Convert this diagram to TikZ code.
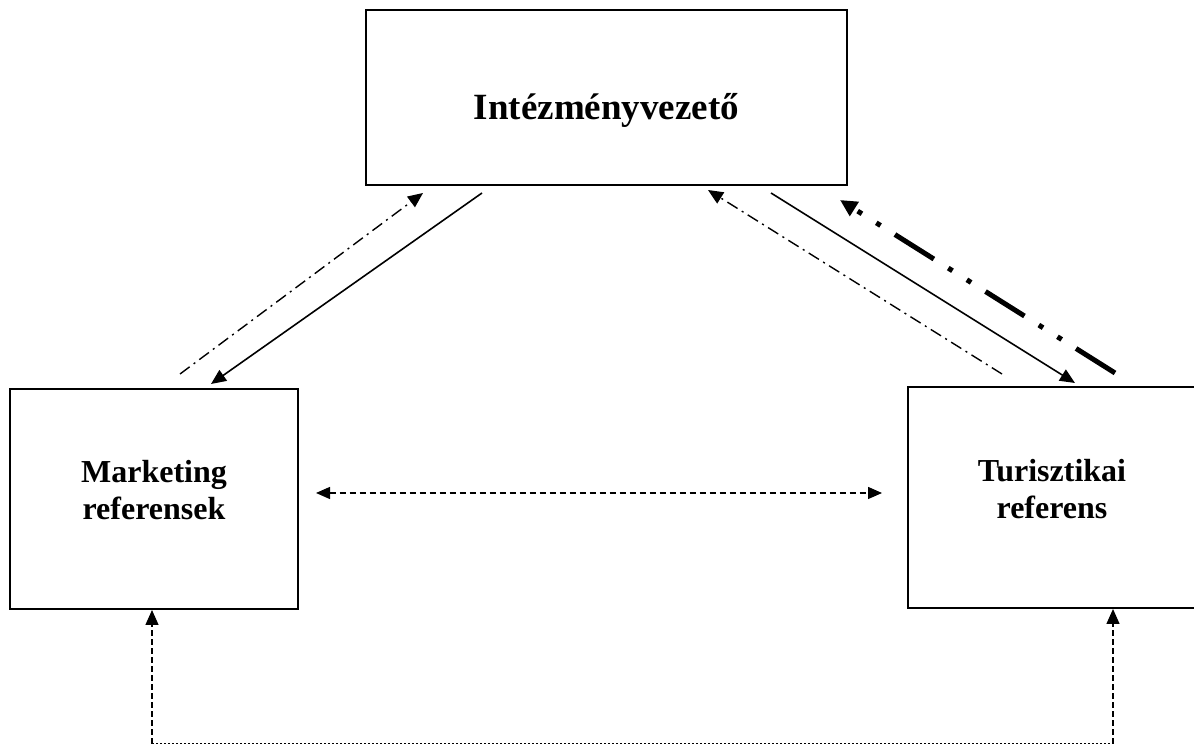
\documentclass[tikz,border=0pt]{standalone}
\usepackage{fontspec}
\setmainfont{Liberation Serif}
\usetikzlibrary{arrows.meta}

\begin{document}
\begin{tikzpicture}[
    x=0.5pt, y=-0.5pt,
    unit/.style={draw, line width=1pt, inner sep=0pt, align=center, text depth=9pt,
      font=\bfseries\fontsize{16}{18.5}\selectfont},
    head/.style={-{Triangle[length=7.5pt, width=6.5pt]}},
    order/.style={draw, line width=0.8pt, head},
    report/.style={draw, line width=0.7pt, head,
      dash pattern=on 6pt off 2.5pt on 1pt off 2.5pt},
    strong/.style={draw, line width=2.5pt, -{Triangle[length=8.5pt, width=8pt]},
      dash pattern=on 23pt off 8.5pt on 2.5pt off 8.5pt on 2.5pt off 8.5pt},
    mutual/.style={draw, line width=0.7pt, {Triangle[length=7pt, width=6pt]}-{Triangle[length=7pt, width=6pt]},
      dash pattern=on 3pt off 2pt},
    riser/.style={draw, line width=0.7pt, dash pattern=on 3pt off 1.5pt},
    base/.style={draw, line width=0.5pt, dash pattern=on 1pt off 1pt}
]
  \useasboundingbox (0,0) rectangle (1194,747);
  % --- the three units --------------------------------------------------
  \node[unit, minimum width=240.5pt, minimum height=87.5pt, text height=22.5pt, text depth=0pt,
        font=\bfseries\fontsize{18.5}{22}\selectfont] (vez) at (606.5,97.5) {Intézményvezető};
  \node[unit, minimum width=144pt, minimum height=110pt] (mark) at (154,499) {Marketing\\referensek};
  \node[unit, minimum width=144pt, minimum height=110.5pt] (tur) at (1052,497.5) {Turisztikai\\referens};
  % --- free ends of the connectors --------------------------------------
  \coordinate (mark-up) at (180,374);  \coordinate (vez-l1) at (423,193);
  \coordinate (vez-l2) at (482,193);   \coordinate (mark-in) at (211,384);
  \coordinate (tur-up) at (1002,374);  \coordinate (vez-r1) at (708,190);
  \coordinate (vez-r2) at (771,193);   \coordinate (tur-in) at (1075,383);
  \coordinate (tur-up2) at (1115,373); \coordinate (vez-r3) at (840,200);
  \coordinate (mark-e) at (316,493);   \coordinate (tur-w) at (882,493);
  \coordinate (mark-s) at (152,744);   \coordinate (tur-s) at (1113,744);
  % --- between the head and the referents -------------------------------
  \draw[report] (mark-up) -- (vez-l1);
  \draw[order] (vez-l2) -- (mark-in);
  \draw[report] (tur-up) -- (vez-r1);
  \draw[order] (vez-r2) -- (tur-in);
  \draw[strong] (tur-up2) -- (vez-r3);
  % --- between the referents --------------------------------------------
  \draw[mutual] (mark-e) -- (tur-w);
  \draw[riser, head] (mark-s) -- (mark.south -| mark-s);
  \draw[base] (mark-s) -- (tur-s);
  \draw[riser, head] (tur-s) -- (tur.south -| tur-s);
\end{tikzpicture}
\end{document}
